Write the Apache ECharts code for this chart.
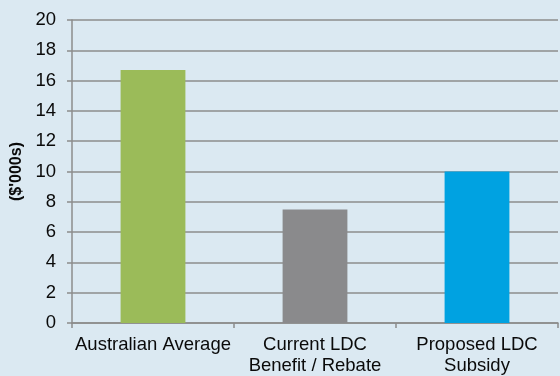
<!DOCTYPE html>
<html>
<head>
<meta charset="utf-8">
<script src="https://cdn.jsdelivr.net/npm/echarts@6/dist/echarts.min.js"></script>
<style>
html,body{margin:0;padding:0;background:#dbe9f2;}
#c{width:560px;height:376px;}
</style>
</head>
<body>
<div id="c"></div>
<script>
var categories = ["Australian Average", "Current LDC\nBenefit / Rebate", "Proposed LDC\nSubsidy"];
var values = [16.7, 7.5, 10.0];
var barColors = ["#9bbb59", "#8a8a8c", "#00a2e1"];
var yTitle = "($'000s)";

var chart = echarts.init(document.getElementById('c'));
var lineCol = '#8c8c8c';
chart.setOption({
  backgroundColor: '#dbe9f2',
  animation: false,
  grid: {left: 72, right: 2, top: 20, bottom: 53},
  xAxis: {
    type: 'category',
    data: categories,
    axisLine: {lineStyle: {color: lineCol, width: 1.5}},
    axisTick: {show: true, length: 5, alignWithLabel: false, lineStyle: {color: lineCol, width: 1.5}},
    axisLabel: {color: '#0a0a0a', fontFamily: 'Liberation Sans, Arial, sans-serif', fontSize: 18.5, lineHeight: 21, margin: 11, interval: 0}
  },
  yAxis: {
    type: 'value',
    min: 0, max: 20, interval: 2,
    name: yTitle,
    nameLocation: 'middle',
    nameGap: 46,
    nameRotate: 90,
    nameTextStyle: {color: '#0a0a0a', fontFamily: 'Liberation Sans, Arial, sans-serif', fontSize: 16, fontWeight: 'bold'},
    axisLine: {show: true, lineStyle: {color: lineCol, width: 1.5}},
    axisTick: {show: true, length: 5, lineStyle: {color: lineCol, width: 1.5}},
    splitLine: {show: true, lineStyle: {color: lineCol, width: 1.5}},
    axisLabel: {color: '#0a0a0a', fontFamily: 'Liberation Sans, Arial, sans-serif', fontSize: 18.5, margin: 16}
  },
  series: [{
    type: 'bar',
    barWidth: '40%',
    data: values.map(function(v, i){ return {value: v, itemStyle: {color: barColors[i]}}; })
  }]
});
</script>
</body>
</html>
